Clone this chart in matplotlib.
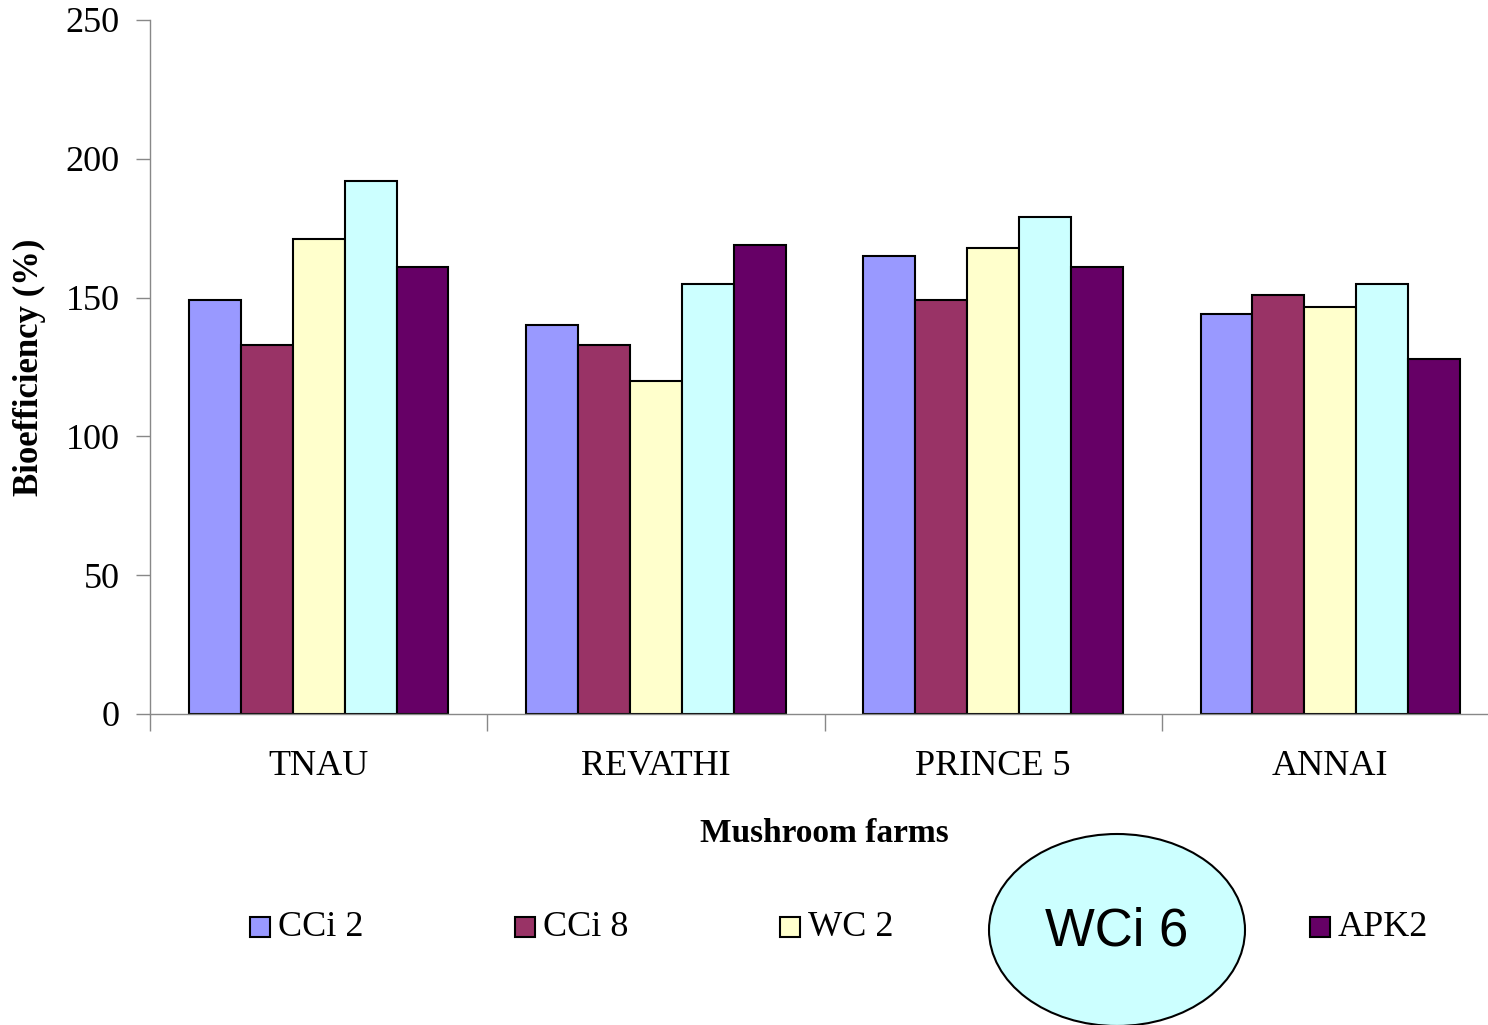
import numpy as np
import matplotlib.pyplot as plt
from matplotlib.patches import Ellipse, Rectangle

# ==========================================================
# DATA
# ==========================================================

farms = ["TNAU", "REVATHI", "PRINCE 5", "ANNAI"]

series_names = ["CCi 2", "CCi 8", "WC 2", "WCi 6", "APK2"]

cci2 = [149, 140, 165, 144]
cci8 = [133, 133, 149, 151]
wc2 = [171, 120, 168, 146.5]
wci6 = [192, 155, 179, 155]
apk2 = [161, 169, 161, 128]

series_values = [cci2, cci8, wc2, wci6, apk2]

colors = ["#9999FF", "#993366", "#FFFFCC", "#CCFFFF", "#660066"]

# ==========================================================
# FIGURE
# ==========================================================

W, H = 1488, 1025

fig = plt.figure(figsize=(W / 100, H / 100), dpi=100)

ax = fig.add_axes([
    150 / W,
    (H - 714) / H,
    1349 / W,
    694 / H
])

serif = ["Liberation Serif", "DejaVu Serif"]

x = np.arange(len(farms))
bar_w = 0.154
n = len(series_names)

for i, vals in enumerate(series_values):
    ax.bar(
        x + (i - (n - 1) / 2) * bar_w,
        vals,
        width=bar_w,
        color=colors[i],
        edgecolor="black",
        linewidth=1.5,
        zorder=2
    )

ax.set_xlim(-0.5, len(farms) - 0.5)
ax.set_ylim(0, 250)
ax.set_yticks(np.arange(0, 251, 50))

ax.set_xticks(x)
ax.set_xticklabels(farms, fontsize=26, family=serif)
ax.set_xticks(np.arange(-0.5, len(farms), 1), minor=True)

ax.tick_params(axis="x", which="major", length=0, pad=26)
ax.tick_params(axis="x", which="minor", length=12, color="#888888", width=1)
ax.tick_params(axis="y", length=10, color="#888888", width=1, pad=12,
               labelsize=26)

for lab in ax.get_yticklabels():
    lab.set_family(serif)

for side in ["top", "right"]:
    ax.spines[side].set_visible(False)
for side in ["left", "bottom"]:
    ax.spines[side].set_color("#888888")
    ax.spines[side].set_linewidth(1)

ax.set_ylabel("Bioefficiency (%)", fontsize=25, fontweight="bold",
              family=serif, labelpad=14)

fig.text(824 / W, 1 - 833 / H, "Mushroom farms", fontsize=24,
         fontweight="bold", family=serif, ha="center", va="center")

# ==========================================================
# LEGEND (manual)
# ==========================================================

sq = 20
for i, name in enumerate(series_names):
    if i == 3:
        # this entry sits under the callout ellipse
        continue
    lx = 250 + i * 265
    ly = 927
    fig.patches.append(Rectangle(
        (lx / W, 1 - (ly + sq / 2) / H),
        sq / W, sq / H,
        transform=fig.transFigure,
        facecolor=colors[i],
        edgecolor="black",
        linewidth=1.5
    ))
    fig.text((lx + sq + 8) / W, 1 - ly / H, name, fontsize=26,
             family=serif, ha="left", va="center")

# callout ellipse over the WCi 6 entry
fig.patches.append(Ellipse(
    (1117 / W, 1 - 930 / H),
    256 / W, 192 / H,
    transform=fig.transFigure,
    facecolor="#CCFFFF",
    edgecolor="black",
    linewidth=1.5,
    zorder=5
))
fig.text(1117 / W, 1 - 932 / H, series_names[3], fontsize=38,
         family=["Liberation Sans", "DejaVu Sans"],
         ha="center", va="center", zorder=6)

fig.savefig("out.png", dpi=100)
